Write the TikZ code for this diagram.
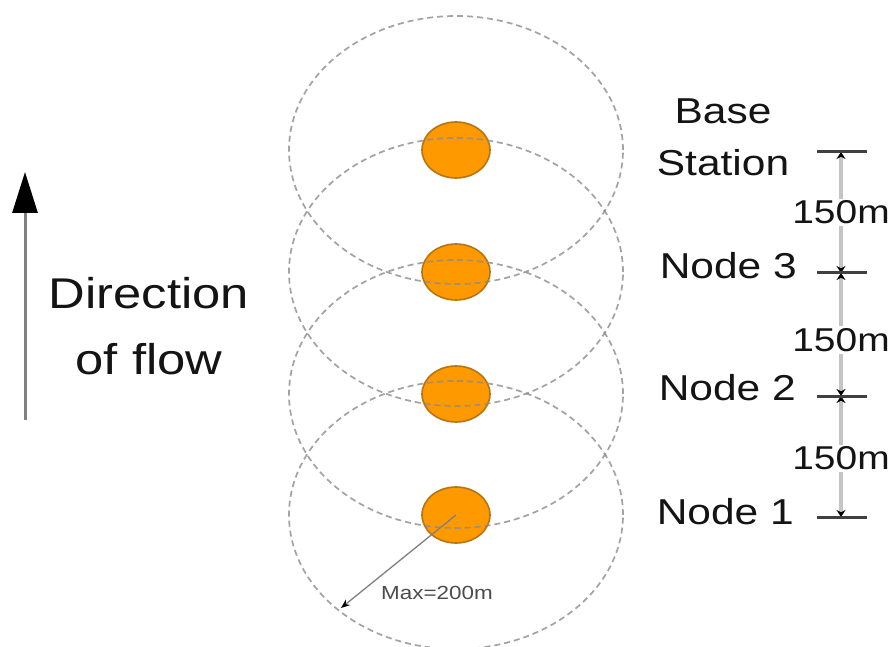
\documentclass[tikz,border=0pt]{standalone}
\usepackage{fontspec}
\setmainfont{Liberation Sans}[FakeStretch=1.18]
\usetikzlibrary{shapes.geometric,arrows.meta}
\definecolor{nodeorange}{HTML}{FF9900}
\definecolor{nodeedge}{HTML}{B87410}
\definecolor{rangegray}{HTML}{8C8C8C}
\definecolor{scalegray}{HTML}{C4C4C4}
\tikzset{
  sensor/.style={ellipse, fill=nodeorange, draw=nodeedge, line width=1.6pt,
    minimum width=68pt, minimum height=56pt, inner sep=0pt},
  radiorange/.style={draw=rangegray, draw opacity=0.8, line width=1.7pt,
    dash pattern=on 6pt off 4pt},
  bigtext/.style={font=\fontsize{36}{40}\selectfont, text=black!92, inner sep=0pt},
  scalebar/.style={draw=black!75, line width=3pt},
  dimline/.style={draw=scalegray, line width=4pt,
    {Stealth[black,length=7pt,width=9pt]}-{Stealth[black,length=7pt,width=9pt]}},
  dimlabel/.style={font=\fontsize{33}{36}\selectfont, text=black!92, fill=white,
    inner sep=2pt}
}
\begin{document}
\begin{tikzpicture}[x=1pt,y=-1pt]
  \fill[white] (0,0) rectangle (892,647);
  \useasboundingbox (0,0) rectangle (892,647);

  % sensor nodes along the line
  \node[sensor] (n4) at (456,150) {};
  \node[sensor] (n3) at (456,272) {};
  \node[sensor] (n2) at (456,394) {};
  \node[sensor] (n1) at (456,515) {};

  % radio ranges
  \foreach \n in {n1,n2,n3,n4}
    \draw[radiorange] (\n.center) ellipse [x radius=167pt, y radius=134pt];

  % maximum range
  \coordinate (maxend) at (341,608);
  \draw[draw=gray, line width=1.3pt, -{Stealth[black,length=9pt,width=7pt]}]
    (n1.center) -- (maxend);
  \node[font=\fontsize{19}{20}\selectfont, text=black!70, inner sep=0pt]
    (maxlbl) at (437,593) {Max=200m};

  % direction of flow
  \coordinate (flowtail) at (25,420);
  \coordinate (flowhead) at (25,172);
  \draw[draw=gray, line width=3pt, -{Triangle[black,length=41pt,width=25pt]}]
    (flowtail) -- (flowhead);
  \node[bigtext, font=\fontsize{43}{66}\selectfont, align=center] (flow)
    at (149,326) {Direction\\of flow};

  % labels
  \node[bigtext, align=center, font=\fontsize{36}{52}\selectfont] (bs)
    at (723,137) {Base\\Station};
  \node[bigtext, anchor=east] (t3) at (797,266) {Node 3};
  \node[bigtext, anchor=east] (t2) at (796,388) {Node 2};
  \node[bigtext, anchor=east] (t1) at (794,512) {Node 1};

  % distance scale
  \coordinate (b4) at (841,152);
  \coordinate (b3) at (841,273);
  \coordinate (b2) at (841,396);
  \coordinate (b1) at (841,517);
  \draw[dimline] (b4) -- node[dimlabel] (d43) {150m} (b3);
  \draw[dimline] (b3) -- node[dimlabel, yshift=-5.5pt] (d32) {150m} (b2);
  \draw[dimline] (b2) -- node[dimlabel, yshift=-2pt] (d21) {150m} (b1);
  \foreach \b in {b1,b2,b3,b4}
    \draw[scalebar] ([xshift=-24pt]\b) -- ([xshift=26pt]\b);
\end{tikzpicture}
\end{document}
